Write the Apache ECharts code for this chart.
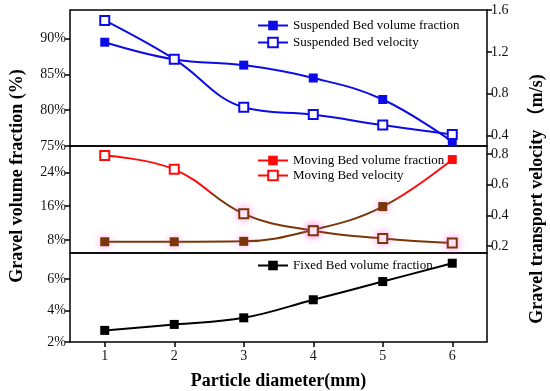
<!DOCTYPE html>
<html>
<head>
<meta charset="utf-8">
<script src="https://cdn.jsdelivr.net/npm/echarts@6/dist/echarts.min.js"></script>
<style>html,body{margin:0;padding:0;background:#fff}#c{width:550px;height:391px}</style>
</head>
<body>
<div id="c"></div>
<script>
const categories = ['1', '2', '3', '4', '5', '6'];
const suspendedFraction = [89.5, 87.1, 86.3, 84.5, 81.5, 75.6];
const suspendedVelocity = [1.50, 1.13, 0.67, 0.60, 0.50, 0.41];
const movingFraction = [7.6, 7.6, 7.7, 10.4, 15.9, 27.0];
const movingVelocity = [0.79, 0.70, 0.41, 0.30, 0.25, 0.22];
const fixedFraction = [2.74, 3.12, 3.54, 4.69, 5.85, 7.02];

const topLeftTicks = [75, 80, 85, 90];
const topRightTicks = [0.4, 0.8, 1.2, 1.6];
const midLeftTicks = [8, 16, 24];
const midRightTicks = [0.2, 0.4, 0.6, 0.8];
const botLeftTicks = [2, 4, 6];

const FONT = 'Liberation Serif';
const BLUE = '#0b0be6';
const RED = '#ff0a0a';
const BROWN = '#7a3508';

const chart = echarts.init(document.getElementById('c'), null, {renderer: 'canvas'});

const gridBase = {left: 70, right: 63, show: true, borderColor: '#000', borderWidth: 1.5, backgroundColor: 'transparent'};
const tickStyle = {show: true, inside: false, length: 5, lineStyle: {color: '#000', width: 1.5}};
const lblStyle = {fontFamily: FONT, fontSize: 14, color: '#111', margin: 4};

function yAxis(grid, pos, min, max, ticks, fmt) {
  return {
    type: 'value', gridIndex: grid, position: pos, min: min, max: max,
    axisLine: {show: false}, splitLine: {show: false},
    axisTick: Object.assign({customValues: ticks}, tickStyle),
    axisLabel: Object.assign({customValues: ticks, formatter: fmt}, lblStyle)
  };
}
const pct = v => v + '%';
const dec = v => v.toFixed(1);

// colour below a threshold value becomes brown with a pink halo
function pairs(arr, thr) {
  return arr.map((v, i) => {
    const item = {value: [categories[i], v]};
    if (thr !== undefined) {
      if (v < thr) {
        item.itemStyle = {color: BROWN, shadowBlur: 8, shadowColor: 'rgba(255,80,210,0.55)'};
      } else {
        item.itemStyle = {color: RED};
      }
    }
    return item;
  });
}
// vertical two-colour gradient across middle panel (pixel space)
function splitGrad(frac) {
  return new echarts.graphic.LinearGradient(0, 146, 0, 253, [
    {offset: 0, color: RED}, {offset: frac, color: RED},
    {offset: frac, color: BROWN}, {offset: 1, color: BROWN}
  ], true);
}

const legendText = {fontFamily: FONT, fontSize: 13, color: '#000'};

const option = {
  animation: false,
  grid: [
    Object.assign({top: 10, height: 136}, gridBase),
    Object.assign({top: 146, height: 107}, gridBase),
    Object.assign({top: 253, height: 89}, gridBase)
  ],
  xAxis: [
    {type: 'category', gridIndex: 0, data: categories, show: false, boundaryGap: true},
    {type: 'category', gridIndex: 1, data: categories, show: false, boundaryGap: true},
    {type: 'category', gridIndex: 2, data: categories, boundaryGap: true,
     axisLine: {show: false}, splitLine: {show: false},
     axisTick: Object.assign({alignWithLabel: true}, tickStyle),
     axisLabel: Object.assign({}, lblStyle, {margin: 7}),
     name: 'Particle diameter(mm)', nameLocation: 'middle', nameGap: 30,
     nameTextStyle: {fontFamily: FONT, fontSize: 18, fontWeight: 'bold', color: '#000'}}
  ],
  yAxis: [
    yAxis(0, 'left', 75, 94, topLeftTicks, pct),
    yAxis(0, 'right', 0.3, 1.6, topRightTicks, dec),
    yAxis(1, 'left', 4.95, 30.2, midLeftTicks, pct),
    yAxis(1, 'right', 0.155, 0.852, midRightTicks, dec),
    yAxis(2, 'left', 2, 7.67, botLeftTicks, pct)
  ],
  legend: [
    {data: ['Suspended Bed volume fraction', 'Suspended Bed velocity'], left: 252, top: 14,
     orient: 'vertical', itemWidth: 30, itemHeight: 12, itemGap: 4, textStyle: legendText},
    {data: [
       {name: 'Moving Bed volume fraction', itemStyle: {color: RED}, lineStyle: {color: RED}},
       {name: 'Moving Bed velocity', lineStyle: {color: RED}}
     ], left: 252, top: 149,
     orient: 'vertical', itemWidth: 30, itemHeight: 12, itemGap: 2, textStyle: legendText},
    {data: ['Fixed Bed volume fraction'], left: 252, top: 254,
     orient: 'vertical', itemWidth: 30, itemHeight: 12, textStyle: legendText}
  ],
  series: [
    {name: 'Suspended Bed volume fraction', type: 'line', xAxisIndex: 0, yAxisIndex: 0,
     data: pairs(suspendedFraction), smooth: 0.4, symbol: 'rect', symbolSize: 9,
     color: BLUE, lineStyle: {width: 2, color: BLUE}, itemStyle: {color: BLUE}},
    {name: 'Suspended Bed velocity', type: 'line', xAxisIndex: 0, yAxisIndex: 1,
     data: pairs(suspendedVelocity), smooth: 0.4, symbol: 'emptyRect', symbolSize: 9,
     color: BLUE, lineStyle: {width: 2, color: BLUE}, itemStyle: {color: BLUE, borderWidth: 1.5}},
    {name: 'Moving Bed volume fraction', type: 'line', xAxisIndex: 1, yAxisIndex: 2,
     data: pairs(movingFraction, 17), smooth: 0.4, symbol: 'rect', symbolSize: 9,
     color: RED, lineStyle: {width: 2, color: splitGrad(0.5)}},
    {name: 'Moving Bed velocity', type: 'line', xAxisIndex: 1, yAxisIndex: 3,
     data: pairs(movingVelocity, 0.55), smooth: 0.4, symbol: 'emptyRect', symbolSize: 9,
     color: RED, lineStyle: {width: 2, color: splitGrad(0.44)}, itemStyle: {color: RED, borderWidth: 1.5}},
    {name: 'Fixed Bed volume fraction', type: 'line', xAxisIndex: 2, yAxisIndex: 4,
     data: pairs(fixedFraction), smooth: 0.4, symbol: 'rect', symbolSize: 9,
     color: '#000', lineStyle: {width: 2, color: '#000'}, itemStyle: {color: '#000'}}
  ],
  graphic: [
    {type: 'text', x: 17, y: 176, rotation: Math.PI / 2,
     style: {text: 'Gravel volume fraction (%)', fontFamily: FONT, fontSize: 18, fontWeight: 'bold',
             fill: '#000', align: 'center', verticalAlign: 'middle'}},
    {type: 'text', x: 537, y: 199, rotation: Math.PI / 2,
     style: {text: 'Gravel transport velocity （m/s)', fontFamily: FONT + ', Noto Sans CJK SC', fontSize: 18, fontWeight: 'bold',
             fill: '#000', align: 'center', verticalAlign: 'middle'}}
  ]
};
chart.setOption(option);
</script>
</body>
</html>
